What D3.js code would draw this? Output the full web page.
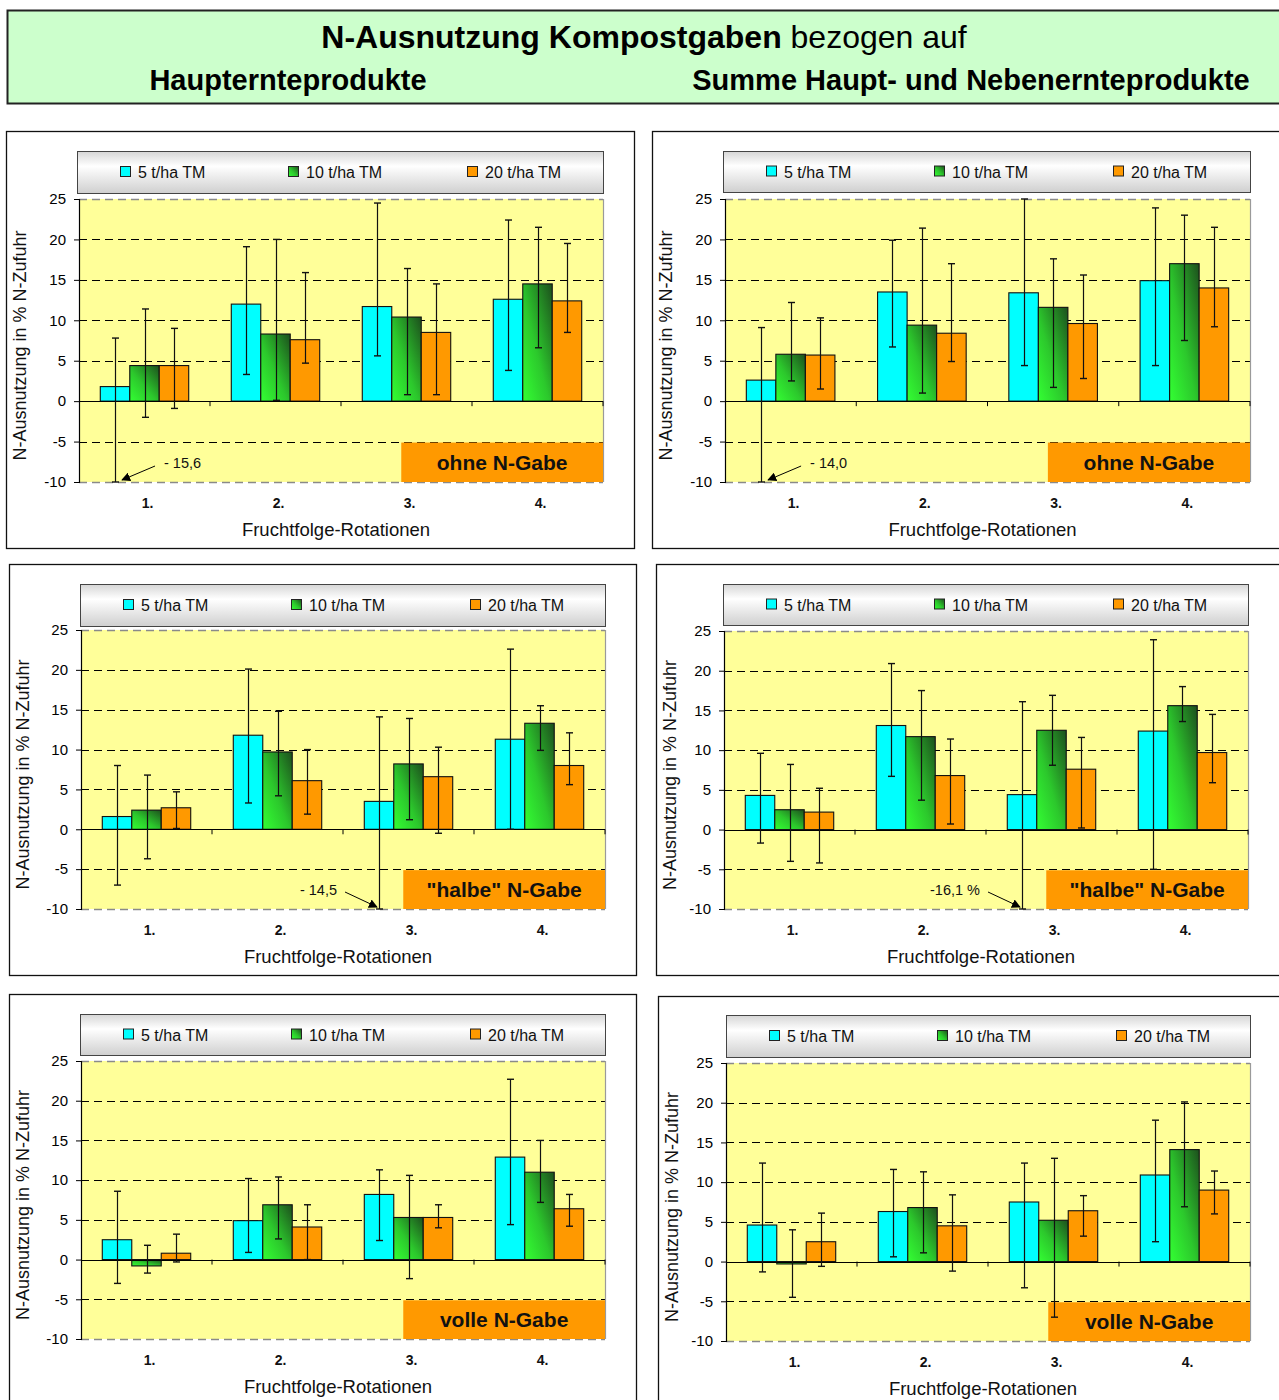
<!DOCTYPE html>
<html>
<head>
<meta charset="utf-8">
<script src="https://cdn.jsdelivr.net/npm/d3@7"></script>
<style>
  body { margin:0; background:#ffffff; }
  text { font-family: "Liberation Sans", Arial, sans-serif; }
</style>
</head>
<body>
<script>
// ---------- DATA ----------
const categories = ["1.", "2.", "3.", "4."];
const series = ["5 t/ha TM", "10 t/ha TM", "20 t/ha TM"];
const yTicks = [25, 20, 15, 10, 5, 0, -5, -10];

const titleMain = "N-Ausnutzung Kompostgaben";
const titleRest = " bezogen auf";
const subLeft = "Haupternteprodukte";
const subRight = "Summe Haupt- und Nebenernteprodukte";
const yTitle = "N-Ausnutzung in % N-Zufuhr";
const xTitle = "Fruchtfolge-Rotationen";
const treatmentLabels = ["ohne N-Gabe", "\"halbe\" N-Gabe", "volle N-Gabe"];
const noteTexts = ["- 15,6", "- 14,0", "- 14,5", "-16,1 %", null, null];

// values per series: [5 t, 10 t, 20 t], each over categories 1..4
const p1Values = [[1.8, 12.0, 11.7, 12.6], [4.4, 8.3, 10.4, 14.5], [4.4, 7.6, 8.5, 12.4]];
const p1High   = [[7.8, 19.1, 24.5, 22.4], [11.4, 20.0, 16.4, 21.5], [9.0, 15.9, 14.5, 19.5]];
const p1Low    = [[-15.6, 3.3, 5.6, 3.8], [-2.0, 0.1, 0.8, 6.6], [-0.9, 4.7, 0.8, 8.5]];

const p2Values = [[2.6, 13.5, 13.4, 14.9], [5.8, 9.4, 11.6, 17.0], [5.7, 8.4, 9.6, 14.0]];
const p2High   = [[9.1, 19.9, 25.0, 23.9], [12.2, 21.4, 17.6, 23.0], [10.3, 17.0, 15.6, 21.5]];
const p2Low    = [[-14.0, 6.7, 4.4, 4.4], [2.5, 1.0, 1.7, 7.5], [1.5, 4.9, 2.8, 9.2]];

const p3Values = [[1.6, 11.8, 3.5, 11.3], [2.4, 9.7, 8.2, 13.3], [2.7, 6.1, 6.6, 8.0]];
const p3High   = [[8.0, 20.1, 14.1, 22.6], [6.8, 14.8, 13.9, 15.5], [4.7, 10.0, 10.3, 12.1]];
const p3Low    = [[-7.0, 3.3, -14.5, 0.0], [-3.7, 4.2, 1.2, 9.9], [0.1, 1.9, -0.5, 5.6]];

const p4Values = [[4.3, 13.1, 4.4, 12.4], [2.5, 11.7, 12.5, 15.6], [2.2, 6.8, 7.6, 9.7]];
const p4High   = [[9.6, 20.9, 16.1, 23.9], [8.2, 17.5, 16.9, 18.0], [5.2, 11.4, 11.6, 14.5]];
const p4Low    = [[-1.7, 6.7, -16.1, -5.0], [-4.0, 3.7, 8.1, 13.6], [-4.2, 0.7, 0.2, 5.9]];

const p5Values = [[2.5, 4.9, 8.2, 12.9], [-0.8, 6.9, 5.3, 11.0], [0.8, 4.1, 5.3, 6.4]];
const p5High   = [[8.6, 10.2, 11.3, 22.7], [1.8, 10.4, 10.6, 15.0], [3.2, 6.9, 6.9, 8.2]];
const p5Low    = [[-3.0, 0.9, 2.4, 4.4], [-1.7, 2.6, -2.4, 7.2], [-0.3, 0.0, 4.0, 4.2]];

const p6Values = [[4.6, 6.3, 7.5, 10.9], [-0.3, 6.8, 5.2, 14.1], [2.5, 4.5, 6.4, 9.0]];
const p6High   = [[12.4, 11.6, 12.4, 17.8], [4.0, 11.3, 13.0, 20.1], [6.1, 8.4, 8.3, 11.4]];
const p6Low    = [[-1.3, 0.6, -3.3, 2.5], [-4.5, 1.1, -7.0, 6.9], [-0.6, -1.2, 3.2, 6.0]];

// ---------- LAYOUT ----------
const panels = [
  { values: p1Values, high: p1High, low: p1Low, label: treatmentLabels[0], note: noteTexts[0], noteAt: [0, 0], noteSide: 1,
    box: {x: 6, y: 131, w: 628, h: 417}, legend: {x: 77, y: 151, w: 526, h: 42}, plot: {x: 79, y: 199, w: 524, h: 283} },
  { values: p2Values, high: p2High, low: p2Low, label: treatmentLabels[0], note: noteTexts[1], noteAt: [0, 0], noteSide: 1,
    box: {x: 652, y: 131, w: 640, h: 417}, legend: {x: 723, y: 151, w: 527, h: 41}, plot: {x: 725, y: 199, w: 525, h: 283} },
  { values: p3Values, high: p3High, low: p3Low, label: treatmentLabels[1], note: noteTexts[2], noteAt: [2, 0], noteSide: -1,
    box: {x: 9, y: 564, w: 627, h: 411}, legend: {x: 80, y: 584, w: 525, h: 42}, plot: {x: 81, y: 630, w: 524, h: 279} },
  { values: p4Values, high: p4High, low: p4Low, label: treatmentLabels[1], note: noteTexts[3], noteAt: [2, 0], noteSide: -1,
    box: {x: 656, y: 564, w: 640, h: 411}, legend: {x: 723, y: 584, w: 525, h: 41}, plot: {x: 724, y: 631, w: 524, h: 278} },
  { values: p5Values, high: p5High, low: p5Low, label: treatmentLabels[2], note: noteTexts[4], noteAt: null, noteSide: 0,
    box: {x: 9, y: 994, w: 627, h: 420}, legend: {x: 80, y: 1014, w: 525, h: 41}, plot: {x: 81, y: 1061, w: 524, h: 278} },
  { values: p6Values, high: p6High, low: p6Low, label: treatmentLabels[2], note: noteTexts[5], noteAt: null, noteSide: 0,
    box: {x: 658, y: 996, w: 640, h: 420}, legend: {x: 726, y: 1015, w: 524, h: 42}, plot: {x: 726, y: 1063, w: 524, h: 278} }
];

const W = 1279, H = 1400;
const svg = d3.select("body").append("svg").attr("width", W).attr("height", H)
  .style("display", "block");

// ---------- DEFS ----------
const defs = svg.append("defs");
const gg = defs.append("linearGradient").attr("id", "greenGrad")
  .attr("x1", 0).attr("y1", 1).attr("x2", 1).attr("y2", 0);
gg.append("stop").attr("offset", "0%").attr("stop-color", "#33ff33");
gg.append("stop").attr("offset", "45%").attr("stop-color", "#2cc82c");
gg.append("stop").attr("offset", "100%").attr("stop-color", "#1d4f1d");

const lg = defs.append("linearGradient").attr("id", "legendGrad")
  .attr("x1", 0).attr("y1", 0).attr("x2", 0).attr("y2", 1);
lg.append("stop").attr("offset", "0%").attr("stop-color", "#d6d6d6");
lg.append("stop").attr("offset", "35%").attr("stop-color", "#ffffff");
lg.append("stop").attr("offset", "100%").attr("stop-color", "#cfcfcf");

defs.append("marker").attr("id", "arrowHead")
  .attr("viewBox", "0 0 10 10").attr("refX", 9).attr("refY", 5)
  .attr("markerWidth", 9).attr("markerHeight", 9).attr("markerUnits", "userSpaceOnUse")
  .attr("orient", "auto")
  .append("path").attr("d", "M0,0 L10,5 L0,10 Z").attr("fill", "#000");

const fills = ["#00ffff", "url(#greenGrad)", "#ff9900"];

// ---------- TITLE ----------
svg.append("rect").attr("x", 7.5).attr("y", 10.5).attr("width", W - 5).attr("height", 93)
  .attr("fill", "#ccffcc").attr("stroke", "#222").attr("stroke-width", 2);
const t = svg.append("text").attr("x", 644).attr("y", 48).attr("text-anchor", "middle")
  .attr("font-size", 32).attr("fill", "#000");
t.append("tspan").attr("font-weight", "bold").text(titleMain);
t.append("tspan").text(titleRest);
svg.append("text").attr("x", 288).attr("y", 90).attr("text-anchor", "middle")
  .attr("font-size", 29).attr("font-weight", "bold").text(subLeft);
svg.append("text").attr("x", 971).attr("y", 90).attr("text-anchor", "middle")
  .attr("font-size", 29).attr("font-weight", "bold").text(subRight);

// ---------- PANELS ----------
panels.forEach(drawPanel);

function drawPanel(p) {
  const g = svg.append("g");
  const B = p.box, Lg = p.legend, P = p.plot;

  g.append("rect").attr("x", B.x + 0.5).attr("y", B.y + 0.5).attr("width", B.w).attr("height", B.h)
    .attr("fill", "#fff").attr("stroke", "#111").attr("stroke-width", 1.3);

  // legend
  g.append("rect").attr("x", Lg.x + 0.5).attr("y", Lg.y + 0.5).attr("width", Lg.w).attr("height", Lg.h)
    .attr("fill", "url(#legendGrad)").attr("stroke", "#444").attr("stroke-width", 1);
  const legOffsets = [43, 211, 390];
  series.forEach((s, i) => {
    const lx = Lg.x + legOffsets[i], ly = Lg.y + Lg.h / 2;
    g.append("rect").attr("x", lx + 0.5).attr("y", ly - 5.5).attr("width", 10).attr("height", 10)
      .attr("fill", fills[i]).attr("stroke", "#222").attr("stroke-width", 1);
    g.append("text").attr("x", lx + 18).attr("y", ly + 6).attr("font-size", 16).attr("fill", "#111").text(s);
  });

  const y = d3.scaleLinear().domain([-10, 25]).range([P.y + P.h, P.y]);
  const x0 = d3.scaleBand().domain(categories).range([P.x, P.x + P.w])
    .paddingInner(0.325).paddingOuter(0.1625);
  const x1 = d3.scaleBand().domain(series).range([0, x0.bandwidth()]);
  const step = x0.step();

  // plot background
  g.append("rect").attr("x", P.x).attr("y", P.y).attr("width", P.w).attr("height", P.h).attr("fill", "#ffff99");

  // grid lines
  yTicks.filter(v => v !== 0).forEach(v => {
    const border = (v === 25 || v === -10);
    g.append("line").attr("x1", P.x).attr("x2", P.x + P.w)
      .attr("y1", Math.round(y(v)) + 0.5).attr("y2", Math.round(y(v)) + 0.5)
      .attr("stroke", border ? "#8a8a8a" : "#000").attr("stroke-width", border ? 1.5 : 1)
      .attr("stroke-dasharray", "8,5");
  });
  g.append("line").attr("x1", P.x + P.w + 0.5).attr("x2", P.x + P.w + 0.5).attr("y1", P.y).attr("y2", P.y + P.h)
    .attr("stroke", "#9a9a9a").attr("stroke-width", 1.2);

  // treatment label box (behind the marks)
  const bw = P.w * 0.385;
  g.append("rect").attr("x", P.x + P.w - bw).attr("y", y(-5) + 1).attr("width", bw)
    .attr("height", y(-10) - y(-5) - 1).attr("fill", "#ff9900");
  g.append("text").attr("x", P.x + P.w - bw / 2).attr("y", (y(-5) + y(-10)) / 2 + 8)
    .attr("text-anchor", "middle").attr("font-size", 21).attr("font-weight", "bold")
    .attr("fill", "#111").text(p.label);

  // y axis
  const ya = g.append("g").attr("transform", `translate(${P.x},0)`)
    .call(d3.axisLeft(y).tickValues(yTicks).tickSize(5).tickPadding(8).tickFormat(d => d));
  ya.select(".domain").attr("stroke", "#000").attr("stroke-width", 1.2);
  ya.selectAll(".tick line").attr("stroke", "#000");
  ya.selectAll(".tick text").attr("font-size", 15).attr("fill", "#000")
    .attr("font-family", "'Liberation Sans', Arial, sans-serif");

  // bars
  series.forEach((s, si) => {
    g.selectAll(null).data(categories).enter().append("rect")
      .attr("x", c => x0(c) + x1(s))
      .attr("y", (c, ci) => y(Math.max(0, p.values[si][ci])))
      .attr("width", x1.bandwidth())
      .attr("height", (c, ci) => Math.abs(y(p.values[si][ci]) - y(0)))
      .attr("fill", fills[si]).attr("stroke", "#111").attr("stroke-width", 1.1);
  });

  // zero line
  g.append("line").attr("x1", P.x).attr("x2", P.x + P.w)
    .attr("y1", Math.round(y(0)) + 0.5).attr("y2", Math.round(y(0)) + 0.5)
    .attr("stroke", "#000").attr("stroke-width", 1.2);
  // category tick marks
  categories.forEach((c, i) => {
    const bx = P.x + step * (i + 1);
    g.append("line").attr("x1", bx).attr("x2", bx).attr("y1", y(0)).attr("y2", y(0) + 5)
      .attr("stroke", "#000").attr("stroke-width", 1);
  });

  // error bars
  series.forEach((s, si) => {
    categories.forEach((c, ci) => {
      const cx = Math.round(x0(c) + x1(s) + x1.bandwidth() / 2) + 0.5;
      const hi = p.high[si][ci], lo = p.low[si][ci];
      const yh = y(Math.min(25, hi)), yl = y(Math.max(-10, lo));
      g.append("line").attr("x1", cx).attr("x2", cx).attr("y1", yh).attr("y2", yl)
        .attr("stroke", "#111").attr("stroke-width", 1.2);
      g.append("line").attr("x1", cx - 3.5).attr("x2", cx + 3.5).attr("y1", yh).attr("y2", yh)
        .attr("stroke", "#111").attr("stroke-width", 1.4);
      g.append("line").attr("x1", cx - 3.5).attr("x2", cx + 3.5).attr("y1", yl).attr("y2", yl)
        .attr("stroke", "#111").attr("stroke-width", 1.4);
    });
  });

  // annotation arrow
  if (p.note) {
    const [ci, si] = p.noteAt;
    const ex = x0(categories[ci]) + x1(series[si]) + x1.bandwidth() / 2;
    const yb = y(-10);
    if (p.noteSide > 0) {
      g.append("line").attr("x1", ex + 40).attr("y1", yb - 16).attr("x2", ex + 7).attr("y2", yb - 2)
        .attr("stroke", "#000").attr("stroke-width", 1).attr("marker-end", "url(#arrowHead)");
      g.append("text").attr("x", ex + 49).attr("y", yb - 14).attr("font-size", 14.5).attr("fill", "#111").text(p.note);
    } else {
      g.append("line").attr("x1", ex - 34).attr("y1", yb - 17).attr("x2", ex - 2).attr("y2", yb - 2)
        .attr("stroke", "#000").attr("stroke-width", 1).attr("marker-end", "url(#arrowHead)");
      g.append("text").attr("x", ex - 42).attr("y", yb - 14).attr("text-anchor", "end")
        .attr("font-size", 14.5).attr("fill", "#111").text(p.note);
    }
  }

  // category labels
  categories.forEach(c => {
    g.append("text").attr("x", x0(c) + x0.bandwidth() / 2 + 3).attr("y", P.y + P.h + 26)
      .attr("text-anchor", "middle").attr("font-size", 14).attr("font-weight", "bold").attr("fill", "#111").text(c);
  });
  // x title
  g.append("text").attr("x", P.x + P.w / 2 - 5).attr("y", P.y + P.h + 54)
    .attr("text-anchor", "middle").attr("font-size", 18.5).attr("fill", "#111").text(xTitle);
  // y title
  g.append("text").attr("transform", `translate(${B.x + 20},${P.y + P.h / 2 + 5}) rotate(-90)`)
    .attr("text-anchor", "middle").attr("font-size", 18).attr("fill", "#111").text(yTitle);
}
</script>
</body>
</html>
